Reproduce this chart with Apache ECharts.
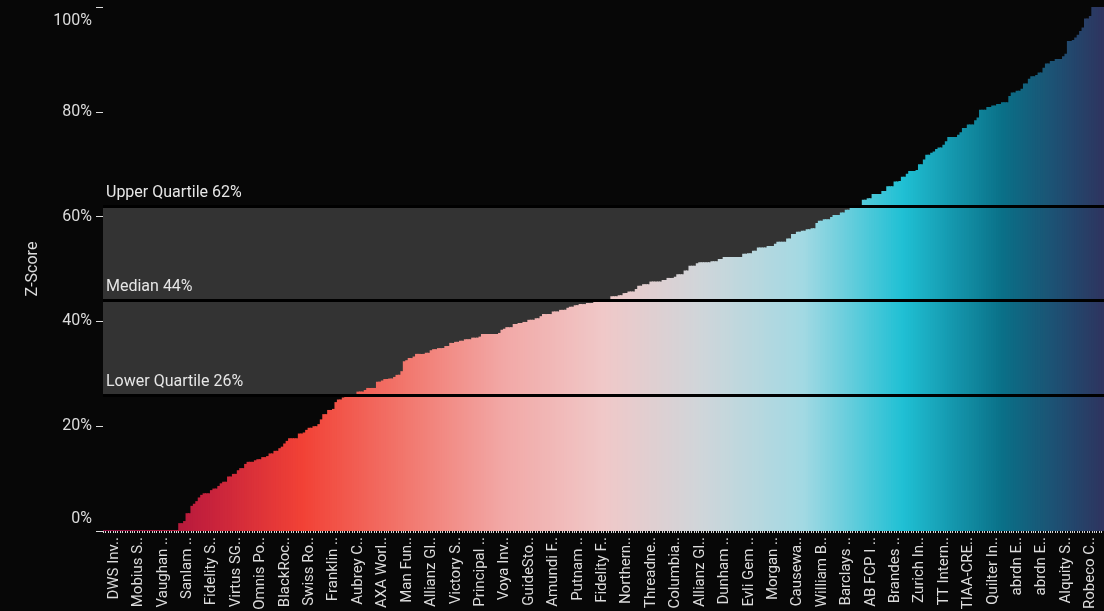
<!DOCTYPE html>
<html>
<head>
<meta charset="utf-8">
<script src="https://cdn.jsdelivr.net/npm/echarts@6/dist/echarts.min.js"></script>
<style>
  html, body { margin: 0; padding: 0; background: #070707; }
  #chart { width: 1104px; height: 611px; }
</style>
</head>
<body>
<div id="chart"></div>
<script>
// z-score of each fund, sorted ascending (%)
const zScores = [
  0, 0, 0, 0, 0, 0, 0, 0, 0, 0,
  0, 0, 0, 0, 0, 0, 0, 0, 0, 0,
  0, 0, 0, 0, 0, 0, 0, 0, 0, 0,
  0, 1.5, 1.5, 1.9, 3.4, 3.4, 4.8, 5.2, 5.7, 6.4,
  6.9, 7.2, 7.2, 7.2, 7.8, 8.1, 8.1, 8.6, 9.1, 9.4,
  9.4, 10.4, 10.4, 10.9, 10.9, 11.6, 12.0, 12.0, 12.8, 13.2,
  13.2, 13.2, 13.5, 13.7, 13.7, 14.1, 14.1, 14.3, 14.8, 14.8,
  15.3, 15.3, 15.8, 16.1, 16.7, 17.2, 17.7, 17.7, 17.7, 17.7,
  18.6, 18.6, 18.8, 19.3, 19.7, 19.7, 20.0, 20.0, 20.4, 21.3,
  22.3, 22.3, 23.1, 23.1, 23.3, 24.6, 25.1, 25.1, 25.5, 25.8,
  25.8, 26.0, 26.0, 26.0, 26.6, 26.6, 26.6, 26.9, 27.3, 27.3,
  27.3, 27.3, 28.5, 28.5, 28.7, 29.0, 29.0, 29.1, 29.1, 29.4,
  29.8, 29.8, 30.5, 32.4, 32.6, 33.0, 33.0, 33.3, 33.8, 33.8,
  33.8, 33.8, 34.0, 34.0, 34.5, 34.7, 34.7, 34.9, 34.9, 34.9,
  35.3, 35.3, 35.9, 35.9, 36.1, 36.1, 36.3, 36.3, 36.6, 36.6,
  36.6, 36.9, 36.9, 36.9, 37.1, 37.6, 37.6, 37.6, 37.6, 37.6,
  37.6, 37.6, 37.8, 38.4, 38.6, 38.9, 38.9, 38.9, 39.5, 39.5,
  39.7, 39.7, 39.9, 39.9, 40.3, 40.3, 40.3, 40.6, 40.6, 41.0,
  41.4, 41.4, 41.4, 41.4, 41.9, 41.9, 41.9, 42.2, 42.2, 42.2,
  42.6, 42.8, 42.8, 43.1, 43.1, 43.3, 43.3, 43.3, 43.5, 43.5,
  43.5, 43.8, 43.8, 43.8, 44.1, 44.1, 44.1, 44.1, 44.8, 44.8,
  44.8, 45.0, 45.0, 45.4, 45.4, 45.7, 45.7, 45.7, 46.2, 46.8,
  46.8, 47.1, 47.1, 47.1, 47.6, 47.6, 47.6, 47.6, 47.6, 47.9,
  47.9, 48.3, 48.3, 48.3, 48.5, 49.0, 49.0, 49.0, 49.7, 49.7,
  50.6, 50.6, 50.6, 51.1, 51.3, 51.3, 51.3, 51.3, 51.3, 51.5,
  51.5, 51.5, 51.9, 51.9, 52.3, 52.3, 52.3, 52.3, 52.3, 52.3,
  52.3, 52.3, 52.9, 52.9, 53.0, 53.0, 53.5, 53.5, 54.1, 54.1,
  54.1, 54.1, 54.4, 54.4, 54.4, 54.8, 55.2, 55.2, 55.2, 55.2,
  55.8, 55.8, 56.7, 56.7, 57.1, 57.1, 57.3, 57.3, 57.6, 57.6,
  57.8, 57.8, 58.8, 59.2, 59.2, 59.5, 59.5, 59.5, 59.9, 60.3,
  60.3, 60.3, 60.8, 60.8, 61.3, 61.3, 61.8, 61.8, 61.8, 61.8,
  61.8, 63.2, 63.2, 63.5, 63.5, 64.3, 64.3, 64.3, 64.3, 64.9,
  64.9, 65.8, 65.8, 65.8, 66.7, 66.7, 66.8, 67.6, 67.6, 68.2,
  68.7, 68.7, 68.7, 68.9, 70.0, 70.0, 70.9, 71.8, 71.8, 72.2,
  72.4, 72.9, 73.2, 73.2, 73.7, 74.4, 75.2, 75.2, 75.2, 75.2,
  75.6, 76.1, 76.9, 76.9, 77.6, 77.6, 77.6, 78.4, 78.9, 80.4,
  80.4, 80.4, 80.9, 80.9, 81.2, 81.2, 81.5, 81.5, 81.8, 81.8,
  81.8, 83.0, 83.7, 83.7, 84.0, 84.0, 84.4, 85.4, 85.4, 86.3,
  86.8, 86.8, 87.0, 87.5, 87.5, 88.4, 89.2, 89.2, 89.7, 89.7,
  90.1, 90.1, 90.1, 90.6, 91.1, 93.5, 93.5, 93.7, 94.2, 94.7,
  95.4, 96.1, 97.8, 97.8, 98.3, 100, 100, 100, 100, 100
]

// fund names that are printed on the x axis (every 10th fund, from the 5th)
const shownNames = [
  'DWS Inv..', 'Mobius S..', 'Vaughan ..', 'Sanlam ..', 'Fidelity S..',
  'Virtus SG..', 'Omnis Po..', 'BlackRoc..', 'Swiss Ro..', 'Franklin ..',
  'Aubrey C..', 'AXA Worl..', 'Man Fun..', 'Allianz Gl..', 'Victory S..',
  'Principal ..', 'Voya Inv..', 'GuideSto..', 'Amundi F..', 'Putnam ..',
  'Fidelity F..', 'Northern..', 'Threadne..', 'Columbia..', 'Allianz Gl..',
  'Dunham ..', 'Evli Gem ..', 'Morgan ..', 'Causewa..', 'William B..',
  'Barclays ..', 'AB FCP I ..', 'Brandes ..', 'Zurich In..', 'TT Intern..',
  'TIAA-CRE..', 'Quilter In..', 'abrdn E..', 'abrdn E..', 'Alquity S..',
  'Robeco C..'
]
const labelStep = 10
const labelOffset = 4

const quartileValues = [26, 44, 62]
const quartileNames = ['Lower Quartile', 'Median', 'Upper Quartile']

const categories = zScores.map((v, i) => {
  if (i % labelStep === labelOffset) {
    return shownNames[(i - labelOffset) / labelStep] || ''
  }
  return ''
})

const font = 'Roboto, "Noto Sans", sans-serif'
const textColor = '#dcdcdc'
const chart = echarts.init(document.getElementById('chart'))

const options = {
  backgroundColor: '#070707',
  animation: false,
  grid: {
    left: 103,
    right: 0,
    top: 7,
    bottom: 80,
    outerBoundsMode: 'none',
  },
  visualMap: {
    show: false,
    type: 'continuous',
    seriesIndex: 1,
    dimension: 0,
    min: 0,
    max: zScores.length - 1,
    inRange: {
      color: [
        '#8a0a3e', '#c4203c', '#f24236', '#f2766c', '#f2a8a6',
        '#f0c8c8', '#cfd6da', '#a3d9e3', '#20c0d4', '#0a7088', '#2e3560',
      ],
    },
  },
  xAxis: {
    type: 'category',
    data: categories,
    axisLine: { show: false },
    axisTick: {
      show: true,
      interval: 0,
      length: 2,
      lineStyle: { color: '#d8d8d8' },
    },
    axisLabel: {
      interval: (i) => i % labelStep === labelOffset,
      rotate: 90,
      margin: 6,
      color: textColor,
      fontSize: 15,
      fontFamily: font,
    },
  },
  yAxis: {
    type: 'value',
    min: 0,
    max: 100,
    interval: 20,
    name: 'Z-Score',
    nameLocation: 'middle',
    nameGap: 62,
    nameTextStyle: { color: textColor, fontSize: 16, fontFamily: font },
    axisLine: { show: false },
    axisTick: { show: true, length: 7, lineStyle: { color: textColor } },
    splitLine: { show: false },
    axisLabel: {
      margin: 11,
      color: textColor,
      fontSize: 16,
      fontFamily: font,
      formatter: (v) => {
        if (v === 100) return '{top|100%}'
        if (v === 0) return '{bot|0%}'
        return v + '%'
      },
      rich: {
        top: { padding: [28, 0, 0, 0], color: textColor, fontSize: 16, fontFamily: font },
        bot: { padding: [0, 0, 24, 0], color: textColor, fontSize: 16, fontFamily: font },
      },
    },
  },
  series: [
    {
      // grey band between the quartiles, behind the bars
      type: 'line',
      data: [],
      z: 1,
      silent: true,
      markArea: {
        silent: true,
        itemStyle: { color: '#333333' },
        data: [[{ yAxis: quartileValues[0] }, { yAxis: quartileValues[2] }]],
      },
    },
    {
      type: 'bar',
      data: zScores,
      z: 2,
      // a little wider than the band so neighbouring bars leave no seams
      barWidth: 3.4,
      barMinHeight: 1,
    },
    {
      type: 'line',
      data: [],
      z: 5,
      silent: true,
      markLine: {
        silent: true,
        symbol: 'none',
        lineStyle: { color: '#000000', width: 3, type: 'solid' },
        label: {
          position: 'insideStartTop',
          distance: [3, 5],
          color: '#e6e6e6',
          fontSize: 16,
          fontFamily: font,
        },
        data: quartileValues.map((v, i) => ({
          yAxis: v,
          label: { formatter: quartileNames[i] + ' ' + v + '%' },
        })),
      },
    },
  ],
}

chart.setOption(options)
</script>
</body>
</html>
